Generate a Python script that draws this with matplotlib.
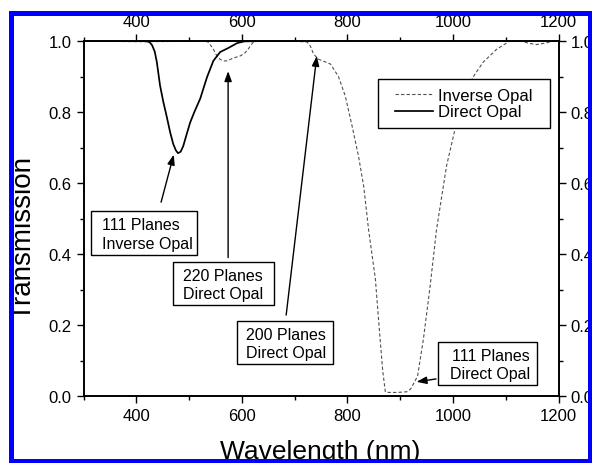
import matplotlib
matplotlib.use("Agg")
import matplotlib.pyplot as plt
from matplotlib.patches import Rectangle
from matplotlib.ticker import FormatStrFormatter

plt.rcParams['font.family'] = ['Liberation Sans', 'DejaVu Sans']

# ---- data ----
wl_direct = [300, 360, 410, 420, 425, 430, 435, 439, 445, 451, 458, 464, 470, 475, 479,
             484, 489, 495, 502, 510, 521, 534, 546, 559, 574, 591, 605, 650, 700]
t_direct = [1.0, 1.0, 1.0, 0.999, 0.997, 0.988, 0.97, 0.94, 0.875, 0.83, 0.785, 0.744, 0.71,
            0.692, 0.684, 0.688, 0.704, 0.735, 0.77, 0.80, 0.837, 0.898, 0.944, 0.969, 0.98,
            0.994, 0.999, 1.0, 1.0]

wl_inverse = [300, 400, 500, 530, 536, 545, 552, 559, 566, 572, 584, 597, 605, 612, 618, 622,
              630, 700, 715, 724, 730, 736, 745, 755, 768, 783, 796, 809, 821, 831, 840,
              853, 862, 867, 872, 880, 895, 913, 920, 933, 944, 956, 969, 988, 1004, 1020,
              1038, 1057, 1083, 1108, 1130, 1146, 1159, 1178, 1190, 1200]
t_inverse = [1.0, 0.998, 0.999, 1.0, 0.997, 0.98, 0.96, 0.948, 0.944, 0.944, 0.952, 0.958,
             0.965, 0.977, 0.99, 0.997, 1.0, 0.999, 0.998, 0.997, 0.985, 0.963, 0.949, 0.943,
             0.935, 0.90, 0.845, 0.76, 0.676, 0.59, 0.47, 0.33, 0.16, 0.07, 0.011, 0.01,
             0.01, 0.012, 0.02, 0.056, 0.16, 0.30, 0.47, 0.649, 0.752, 0.837, 0.898, 0.94,
             0.977, 1.0, 0.999, 0.993, 0.99, 0.995, 1.0, 1.0]

series_labels = ['Inverse Opal', 'Direct Opal']
x_ticks = [400, 600, 800, 1000, 1200]
x_minor = [300, 500, 700, 900, 1100]
y_ticks = [0.0, 0.2, 0.4, 0.6, 0.8, 1.0]
y_minor = [0.1, 0.3, 0.5, 0.7, 0.9]

notes = ['111 Planes\nInverse Opal', '220 Planes\nDirect Opal',
         '200 Planes\nDirect Opal', '111 Planes\nDirect Opal']

W, H = 592, 464
def fx(px):
    return px / W
def fy(py):
    return 1 - py / H

fig = plt.figure(figsize=(W / 100, H / 100), dpi=100)
fig.patch.set_facecolor('white')
ax = fig.add_axes([fx(83.5), fy(397), 475 / W, 355 / H])

ax.plot(wl_inverse, t_inverse, color='#505050', lw=0.8, ls=(0, (3, 2)), label=series_labels[0])
ax.plot(wl_direct, t_direct, color='black', lw=1.25, label=series_labels[1])

ax.set_xlim(300, 1200)
ax.set_ylim(0, 1.0)
ax.set_xticks(x_ticks)
ax.set_xticks(x_minor, minor=True)
ax.set_yticks(y_ticks)
ax.set_yticks(y_minor, minor=True)
ax.yaxis.set_major_formatter(FormatStrFormatter('%.1f'))

for s in ax.spines.values():
    s.set_linewidth(1.4)
ax.tick_params(which='both', direction='out', top=True, right=True,
               labeltop=True, labelright=True, labelsize=12, width=1.0, pad=3.5)
ax.tick_params(which='major', length=5)
ax.tick_params(which='minor', length=2.8)

# legend with manual frame
ax.add_patch(Rectangle((fx(378), fy(129)), fx(550) - fx(378), fy(80) - fy(129),
                       transform=fig.transFigure, facecolor='white', edgecolor='black',
                       lw=1.0, zorder=4, clip_on=False))
ax.legend(loc='center', bbox_to_anchor=(fx(464), fy(104.5)), bbox_transform=fig.transFigure,
          frameon=False, fontsize=12, handlelength=2.3, handletextpad=0.3,
          labelspacing=0.1, borderpad=0)

# annotation boxes: (x0, y0, x1, y1) in pixels, text anchor x, alignment
boxes = [
    (91, 212, 197, 256, 102, 'left'),
    (173, 263, 274, 306, 183, 'left'),
    (237, 322, 333, 365, 246, 'left'),
    (438, 343, 537, 386, 530, 'right'),
]
for (x0, y0, x1, y1, tx, al), txt in zip(boxes, notes):
    ax.add_patch(Rectangle((fx(x0), fy(y1)), fx(x1) - fx(x0), fy(y0) - fy(y1),
                           transform=fig.transFigure, facecolor='white', edgecolor='black',
                           lw=1.0, zorder=4, clip_on=False))
    ax.text(fx(tx), fy((y0 + y1) / 2 + 1), txt, transform=fig.transFigure, ha=al,
            multialignment=al, va='center', fontsize=11.5, linespacing=1.3, zorder=6)

# arrows (tail -> tip) in data coordinates
arrows = [
    ((447, 0.546), (471, 0.68)),
    ((574, 0.39), (574, 0.915)),
    ((684, 0.228), (742, 0.958)),
    ((968, 0.048), (931, 0.04)),
]
for tail, tip in arrows:
    ax.annotate('', xy=tip, xytext=tail,
                arrowprops=dict(arrowstyle='-|>,head_length=0.6,head_width=0.22',
                                mutation_scale=10, color='black', lw=1.0,
                                shrinkA=0, shrinkB=0), zorder=3)

fig.text(fx(320.5), fy(459), 'Wavelength (nm)', ha='center', va='baseline', fontsize=19)
fig.text(fx(23.5), fy(238.5), 'Transmission', rotation=90, ha='center', va='center', fontsize=20)

# blue frame
fig.add_artist(Rectangle((fx(10.5), fy(461.5)), fx(589.5) - fx(10.5), fy(13.5) - fy(461.5),
                         transform=fig.transFigure, fill=False, edgecolor='#0000ff',
                         lw=3.6, zorder=10))

fig.savefig('out.png', dpi=100, facecolor='white')
